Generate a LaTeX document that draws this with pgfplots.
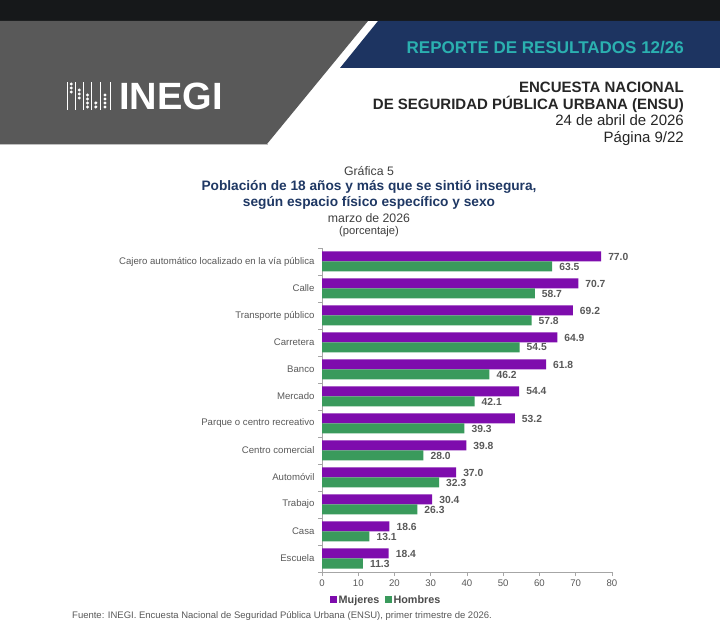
\documentclass[border=0pt]{standalone}
\usepackage{fontspec}
\setmainfont{Liberation Sans}
\usepackage{pgfplots}
\pgfplotsset{compat=1.18}
\pgfplotsset{/pgf/number format/assume math mode=true}
\definecolor{mujer}{HTML}{7E0CAD}
\definecolor{hombre}{HTML}{3A9A5C}
\definecolor{ttlnavy}{HTML}{1F3864}
\definecolor{hdrnavy}{HTML}{1D3461}
\definecolor{hdrgray}{HTML}{595959}
\definecolor{hdrdark}{HTML}{16181A}
\definecolor{tealc}{HTML}{2BB0B0}
\definecolor{txtgray}{HTML}{595959}
\definecolor{axgray}{HTML}{A6A6A6}
\definecolor{hdrtext}{HTML}{262626}
\begin{document}
\begin{tikzpicture}[x=1pt,y=1pt]
\useasboundingbox (0,0) rectangle (720,621);
\fill[white] (0,0) rectangle (720,621);
% header bands
\fill[hdrdark] (0,600) rectangle (720,621);
\fill[hdrgray] (0,600) -- (368,600) -- (267,477) -- (0,477) -- cycle;
\fill[hdrnavy] (378,600) -- (720,600) -- (720,553) -- (340,553) -- cycle;
\draw[black!25, line width=1pt] (0,476.5) -- (267.5,476.5);
% logo (decorative)
\begin{scope}[white]
\foreach \lx in {67.7,75.7,83.3,91.7,100,110}{\fill (\lx-0.5,511) rectangle (\lx+0.5,539);}
\foreach \dy in {537,533,529}{\fill (71.3,\dy) circle (1.6);}
\foreach \dy in {531,527,523}{\fill (79.3,\dy) circle (1.6);}
\foreach \dy in {526,522,518,514}{\fill (87.5,\dy) circle (1.7);}
\foreach \dy in {518,514}{\fill (95.8,\dy) circle (1.7);}
\foreach \dy in {526,522,518,514}{\fill (105,\dy) circle (1.7);}
\end{scope}
\node[anchor=base west, inner sep=0pt, text=white, font=\fontsize{38}{38}\selectfont\bfseries] at (119,511) {INEGI};
% header texts
\node[anchor=base east, inner sep=0pt, text=tealc, font=\fontsize{17}{19}\selectfont\bfseries] at (684,567) {REPORTE DE RESULTADOS 12/26};
\node[anchor=base east, inner sep=0pt, text=hdrtext, font=\fontsize{15}{17}\selectfont\bfseries] at (684,528) {ENCUESTA NACIONAL};
\node[anchor=base east, inner sep=0pt, text=hdrtext, font=\fontsize{15}{17}\selectfont\bfseries] at (684,511) {DE SEGURIDAD PÚBLICA URBANA (ENSU)};
\node[anchor=base east, inner sep=0pt, text=hdrtext, font=\fontsize{15}{17}\selectfont] at (684,495) {24 de abril de 2026};
\node[anchor=base east, inner sep=0pt, text=hdrtext, font=\fontsize{15}{17}\selectfont] at (684,478) {Página 9/22};
% chart titles
\node[anchor=center, inner sep=0pt, text=black!75, font=\fontsize{12.3}{14}\selectfont] at (369,450) {Gráfica 5};
\node[anchor=center, inner sep=0pt, text=ttlnavy, font=\fontsize{13.7}{15}\selectfont\bfseries] at (369,434) {Población de 18 años y más que se sintió insegura,};
\node[anchor=center, inner sep=0pt, text=ttlnavy, font=\fontsize{13.7}{15}\selectfont\bfseries] at (369,418) {según espacio físico específico y sexo};
\node[anchor=center, inner sep=0pt, text=black!75, font=\fontsize{12.3}{14}\selectfont] at (369,403) {marzo de 2026};
\node[anchor=center, inner sep=0pt, text=black!75, font=\fontsize{11.2}{13}\selectfont] at (369,389) {(porcentaje)};
% footer (at the page bottom)
\node[anchor=base west, inner sep=0pt, text=txtgray, font=\fontsize{9.5}{11}\selectfont] at (72,2.4) {Fuente: INEGI. Encuesta Nacional de Seguridad Pública Urbana (ENSU), primer trimestre de 2026.};
\begin{axis}[
  at={(322pt,49pt)}, anchor=south west,
  scale only axis, width=290pt, height=324pt,
  xbar, bar width=10pt,
  xmin=0, xmax=80, ymin=-0.5, ymax=11.5,
  axis x line*=bottom, axis y line*=left,
  axis line style={axgray, line width=0.7pt},
  xtick={0,10,...,80},
  ytick={0,...,11},
  yticklabels={Escuela,Casa,Trabajo,Automóvil,Centro comercial,Parque o centro recreativo,Mercado,Banco,Carretera,Transporte público,Calle,Cajero automático localizado en la vía pública},
  minor ytick={-0.5,0.5,...,11.5},
  tick align=outside,
  major tick length=4pt, minor tick length=4pt,
  major y tick style={draw=none},
  minor y tick style={axgray, line width=0.7pt},
  major x tick style={axgray, line width=0.7pt},
  ticklabel style={font=\fontsize{9.6}{11}\selectfont, text=txtgray},
  clip=false,
  nodes near coords={\pgfmathprintnumber[fixed,fixed zerofill,precision=1]{\pgfplotspointmeta}},
  point meta=x,
  nodes near coords style={font=\fontsize{10.3}{12}\selectfont\bfseries, text=txtgray, anchor=west, xshift=3.6pt},
  legend style={at={(0.2207,-0.0864)}, anchor=center, draw=none, fill=none,
    legend columns=2, font=\fontsize{10.8}{12}\selectfont\bfseries, text=black!70,
    /tikz/every even column/.append style={column sep=4pt},
    nodes={inner sep=1.5pt}},
  legend image code/.code={\fill[#1] (0pt,-3.5pt) rectangle (7pt,3.5pt);},
]
\addplot[fill=mujer, draw=none, bar shift=5pt] coordinates {
 (77.0,11) (70.7,10) (69.2,9) (64.9,8) (61.8,7) (54.4,6) (53.2,5) (39.8,4) (37.0,3) (30.4,2) (18.6,1) (18.4,0)};
\addplot[fill=hombre, draw=none, bar shift=-5pt] coordinates {
 (63.5,11) (58.7,10) (57.8,9) (54.5,8) (46.2,7) (42.1,6) (39.3,5) (28.0,4) (32.3,3) (26.3,2) (13.1,1) (11.3,0)};
\legend{Mujeres,Hombres}
\end{axis}
\end{tikzpicture}
\end{document}
